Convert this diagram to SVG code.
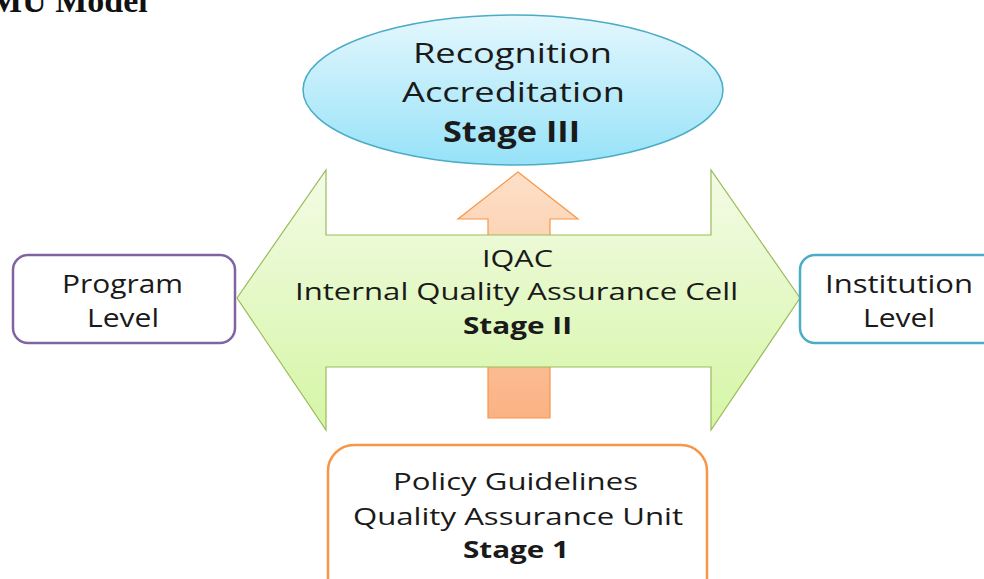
<svg xmlns="http://www.w3.org/2000/svg" width="984" height="579" viewBox="0 0 984 579">
<defs>
<linearGradient id="gBlue" x1="0" y1="0" x2="0" y2="1">
<stop offset="0" stop-color="#e4f7fd"/>
<stop offset="1" stop-color="#96e2f8"/>
</linearGradient>
<linearGradient id="gOrange" x1="0" y1="0" x2="0" y2="1">
<stop offset="0" stop-color="#fde0c8"/>
<stop offset="1" stop-color="#fab283"/>
</linearGradient>
<linearGradient id="gGreen" x1="0" y1="0" x2="0" y2="1">
<stop offset="0" stop-color="#f3fbe6"/>
<stop offset="1" stop-color="#d5f6a5"/>
</linearGradient>
<style>
text{font-family:"Open Sans","Noto Sans",sans-serif;fill:#1a1a1a;text-anchor:middle}
.b{font-weight:bold}
.t{font-family:"Liberation Serif",serif;font-weight:bold;text-anchor:start;fill:#111}
.box{fill:#fff;stroke-width:2.5}
</style>
</defs>
<text class="t" x="-10" y="12" font-size="34">MU Model</text>
<g id="connectors">
<path d="M518,172 L578,219 L550,219 L550,418 L488,418 L488,219 L458,219 Z" fill="url(#gOrange)" stroke="#f79646" stroke-width="1.2"/>
</g>
<g id="stage3">
<ellipse cx="513" cy="90" rx="210" ry="75" fill="url(#gBlue)" stroke="#4bacc6" stroke-width="1.5"/>
<text x="512.5" y="63" font-size="28" textLength="199" lengthAdjust="spacingAndGlyphs">Recognition</text>
<text x="513.5" y="102" font-size="28" textLength="223" lengthAdjust="spacingAndGlyphs">Accreditation</text>
<text x="511.5" y="142" font-size="28" class="b" textLength="137" lengthAdjust="spacingAndGlyphs">Stage III</text>
</g>
<g id="stage2">
<path d="M237,298 L326,170 L326,235 L711,235 L711,170 L800,298 L711,430 L711,367 L326,367 L326,430 Z" fill="url(#gGreen)" stroke="#9bbb59" stroke-width="1.2"/>
<text x="517.5" y="267" font-size="24" textLength="71" lengthAdjust="spacingAndGlyphs">IQAC</text>
<text x="516.5" y="300" font-size="24" textLength="443" lengthAdjust="spacingAndGlyphs">Internal Quality Assurance Cell</text>
<text x="517.5" y="334" font-size="24" class="b" textLength="109" lengthAdjust="spacingAndGlyphs">Stage II</text>
</g>
<g id="program">
<rect class="box" x="13" y="255" width="222" height="88" rx="15" stroke="#8064a2"/>
<text x="122.5" y="293" font-size="25" textLength="121" lengthAdjust="spacingAndGlyphs">Program</text>
<text x="123" y="327" font-size="25" textLength="72" lengthAdjust="spacingAndGlyphs">Level</text>
</g>
<g id="institution">
<rect class="box" x="800" y="255" width="220" height="88" rx="15" stroke="#4bacc6"/>
<text x="899" y="293" font-size="25" textLength="148" lengthAdjust="spacingAndGlyphs">Institution</text>
<text x="899" y="327" font-size="25" textLength="72" lengthAdjust="spacingAndGlyphs">Level</text>
</g>
<g id="stage1">
<rect class="box" x="328" y="445" width="379" height="160" rx="26" stroke="#f79646"/>
<text x="515.5" y="490" font-size="24" textLength="245" lengthAdjust="spacingAndGlyphs">Policy Guidelines</text>
<text x="518" y="525" font-size="24" textLength="330" lengthAdjust="spacingAndGlyphs">Quality Assurance Unit</text>
<text x="516" y="558" font-size="24" class="b" textLength="106" lengthAdjust="spacingAndGlyphs">Stage 1</text>
</g>
</svg>
